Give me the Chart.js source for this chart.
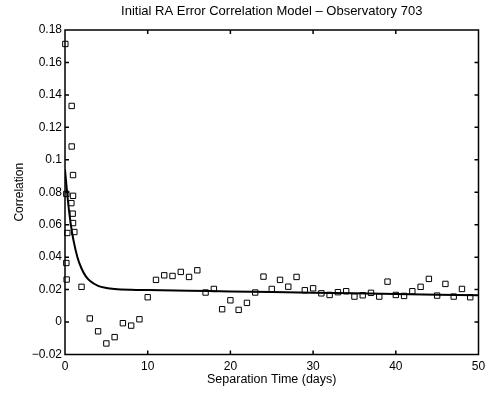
<!DOCTYPE html>
<html>
<head>
<meta charset="utf-8">
<title>Initial RA Error Correlation Model</title>
<script src="https://cdn.jsdelivr.net/npm/chart.js@4.4.1/dist/chart.umd.min.js"></script>
<style>
  html, body { margin: 0; padding: 0; background: #fff; }
  #wrap { width: 487px; height: 394px; position: relative; }
</style>
</head>
<body>
<div id="wrap"><canvas id="corrChart"></canvas></div>
<script>
// observed correlations (separation time in days, correlation)
const obsDays = [
  0.04, 0.16, 0.16, 0.2, 0.28, 0.77, 0.81, 0.81, 0.93, 0.97, 0.97, 0.97, 1.13,
  2, 3, 4, 5, 6, 7, 8, 9, 10, 11, 12, 13, 14, 15, 16, 17, 18, 19, 20,
  21, 22, 23, 24, 25, 26, 27, 28, 29, 30, 31, 32, 33, 34, 35, 36, 37, 38, 39,
  40, 41, 42, 43, 44, 45, 46, 47, 48, 49
];
const obsCorr = [
  0.1714, 0.079, 0.0364, 0.0262, 0.0549, 0.0733, 0.1332, 0.1082, 0.0668, 0.0778, 0.061, 0.0906, 0.0555,
  0.0217, 0.0022, -0.0057, -0.0132, -0.0093, -0.0007, -0.0022, 0.0017, 0.0153, 0.026, 0.0288, 0.0284,
  0.0309, 0.0278, 0.0319, 0.0182, 0.0204, 0.0079, 0.0134,
  0.0075, 0.0118, 0.0182, 0.028, 0.0204, 0.026, 0.0218, 0.0278, 0.0196, 0.0208, 0.0177, 0.0167, 0.0184,
  0.019, 0.0157, 0.0165, 0.018, 0.0157, 0.0249,
  0.0167, 0.0161, 0.019, 0.0217, 0.0266, 0.0163, 0.0235, 0.0157, 0.0204, 0.0153
];

// model curve
const fitDays = [0, 0.25, 0.5, 0.75, 1, 1.5, 2, 2.5, 3, 4, 5, 6, 8, 10, 15, 20, 30, 40, 50];
const fitCorr = [0.094, 0.080, 0.068, 0.0585, 0.051, 0.040, 0.033, 0.0283, 0.0254, 0.0223, 0.021, 0.0204,
  0.0199, 0.0197, 0.0193, 0.0189, 0.0181, 0.0173, 0.0165];

const xTickVals = [0, 10, 20, 30, 40, 50];
const xTickLabels = ["0", "10", "20", "30", "40", "50"];
const yTickVals = [-0.02, 0, 0.02, 0.04, 0.06, 0.08, 0.1, 0.12, 0.14, 0.16, 0.18];
const yTickLabels = ["\u22120.02", "0", "0.02", "0.04", "0.06", "0.08", "0.1", "0.12", "0.14", "0.16", "0.18"];

const FONT = "'Liberation Sans', Arial, Helvetica, sans-serif";

function toPoints(xs, ys) {
  return xs.map((x, i) => ({ x: x, y: ys[i] }));
}

// matlab style box with inward ticks on all four sides
const boxFrame = {
  id: "boxFrame",
  afterDraw(chart) {
    const { ctx, chartArea, scales } = chart;
    const { left, right, top, bottom } = chartArea;
    const len = 4;
    ctx.save();
    ctx.strokeStyle = "#000";
    ctx.lineWidth = 1.5;
    ctx.beginPath();
    ctx.rect(left, top, right - left, bottom - top);
    scales.x.ticks.forEach((t) => {
      const px = scales.x.getPixelForValue(t.value);
      ctx.moveTo(px, bottom);
      ctx.lineTo(px, bottom - len);
      ctx.moveTo(px, top);
      ctx.lineTo(px, top + len);
    });
    scales.y.ticks.forEach((t) => {
      const py = scales.y.getPixelForValue(t.value);
      ctx.moveTo(left, py);
      ctx.lineTo(left + len, py);
      ctx.moveTo(right, py);
      ctx.lineTo(right - len, py);
    });
    ctx.stroke();
    ctx.restore();
  },
};

function initCorrChart() {
  const el = document.getElementById("corrChart");
  if (!el || typeof Chart === "undefined") return null;

  return new Chart(el.getContext("2d"), {
    type: "scatter",
    data: {
      datasets: [
        {
          label: "model",
          data: toPoints(fitDays, fitCorr),
          showLine: true,
          borderColor: "#000",
          borderWidth: 2,
          pointRadius: 0,
          cubicInterpolationMode: "monotone",
          fill: false,
        },
        {
          label: "observed",
          data: toPoints(obsDays, obsCorr),
          pointStyle: "rect",
          pointRadius: 3.8,
          pointBorderWidth: 1,
          pointBorderColor: "#000",
          pointBackgroundColor: "rgba(0,0,0,0)",
          showLine: false,
          clip: false,
        },
      ],
    },
    options: {
      responsive: true,
      maintainAspectRatio: false,
      animation: false,
      layout: { padding: { right: 8.5, top: 0, bottom: 0, left: 0 } },
      plugins: {
        legend: { display: false },
        tooltip: { enabled: false },
        title: {
          display: true,
          text: "Initial RA Error Correlation Model \u2013 Observatory 703",
          color: "#000",
          fullSize: false,
          font: { family: FONT, size: 13, weight: "normal", lineHeight: 1.2 },
          padding: { top: 3.6, bottom: 10.8 },
        },
      },
      scales: {
        x: {
          type: "linear",
          min: 0,
          max: 50,
          afterFit: (s) => {
            s.height = 39.5;
            s.paddingLeft = 0;
            s.paddingRight = 0;
          },
          afterBuildTicks: (s) => { s.ticks = xTickVals.map((v) => ({ value: v })); },
          grid: { display: false, drawTicks: false },
          border: { display: false },
          ticks: {
            color: "#000",
            padding: 5,
            maxRotation: 0,
            font: { family: FONT, size: 12 },
            callback: (v) => xTickLabels[xTickVals.indexOf(v)] ?? "",
          },
          title: {
            display: true,
            text: "Separation Time (days)",
            color: "#000",
            font: { family: FONT, size: 12.5 },
            padding: { top: 0, bottom: 6.5 },
          },
        },
        y: {
          type: "linear",
          min: -0.02,
          max: 0.18,
          afterFit: (s) => {
            s.width = 65;
            s.paddingTop = 0;
            s.paddingBottom = 0;
          },
          afterBuildTicks: (s) => { s.ticks = yTickVals.map((v) => ({ value: v })); },
          grid: { display: false, drawTicks: false },
          border: { display: false },
          ticks: {
            color: "#000",
            padding: 3,
            font: { family: FONT, size: 12 },
            callback: (v) => {
              const i = yTickVals.findIndex((t) => Math.abs(t - v) < 1e-9);
              return i >= 0 ? yTickLabels[i] : "";
            },
          },
          title: {
            display: true,
            text: "Correlation",
            color: "#000",
            font: { family: FONT, size: 12 },
            padding: { top: 12, bottom: 0 },
          },
        },
      },
    },
    plugins: [boxFrame],
  });
}

document.addEventListener("DOMContentLoaded", initCorrChart);
</script>
</body>
</html>
